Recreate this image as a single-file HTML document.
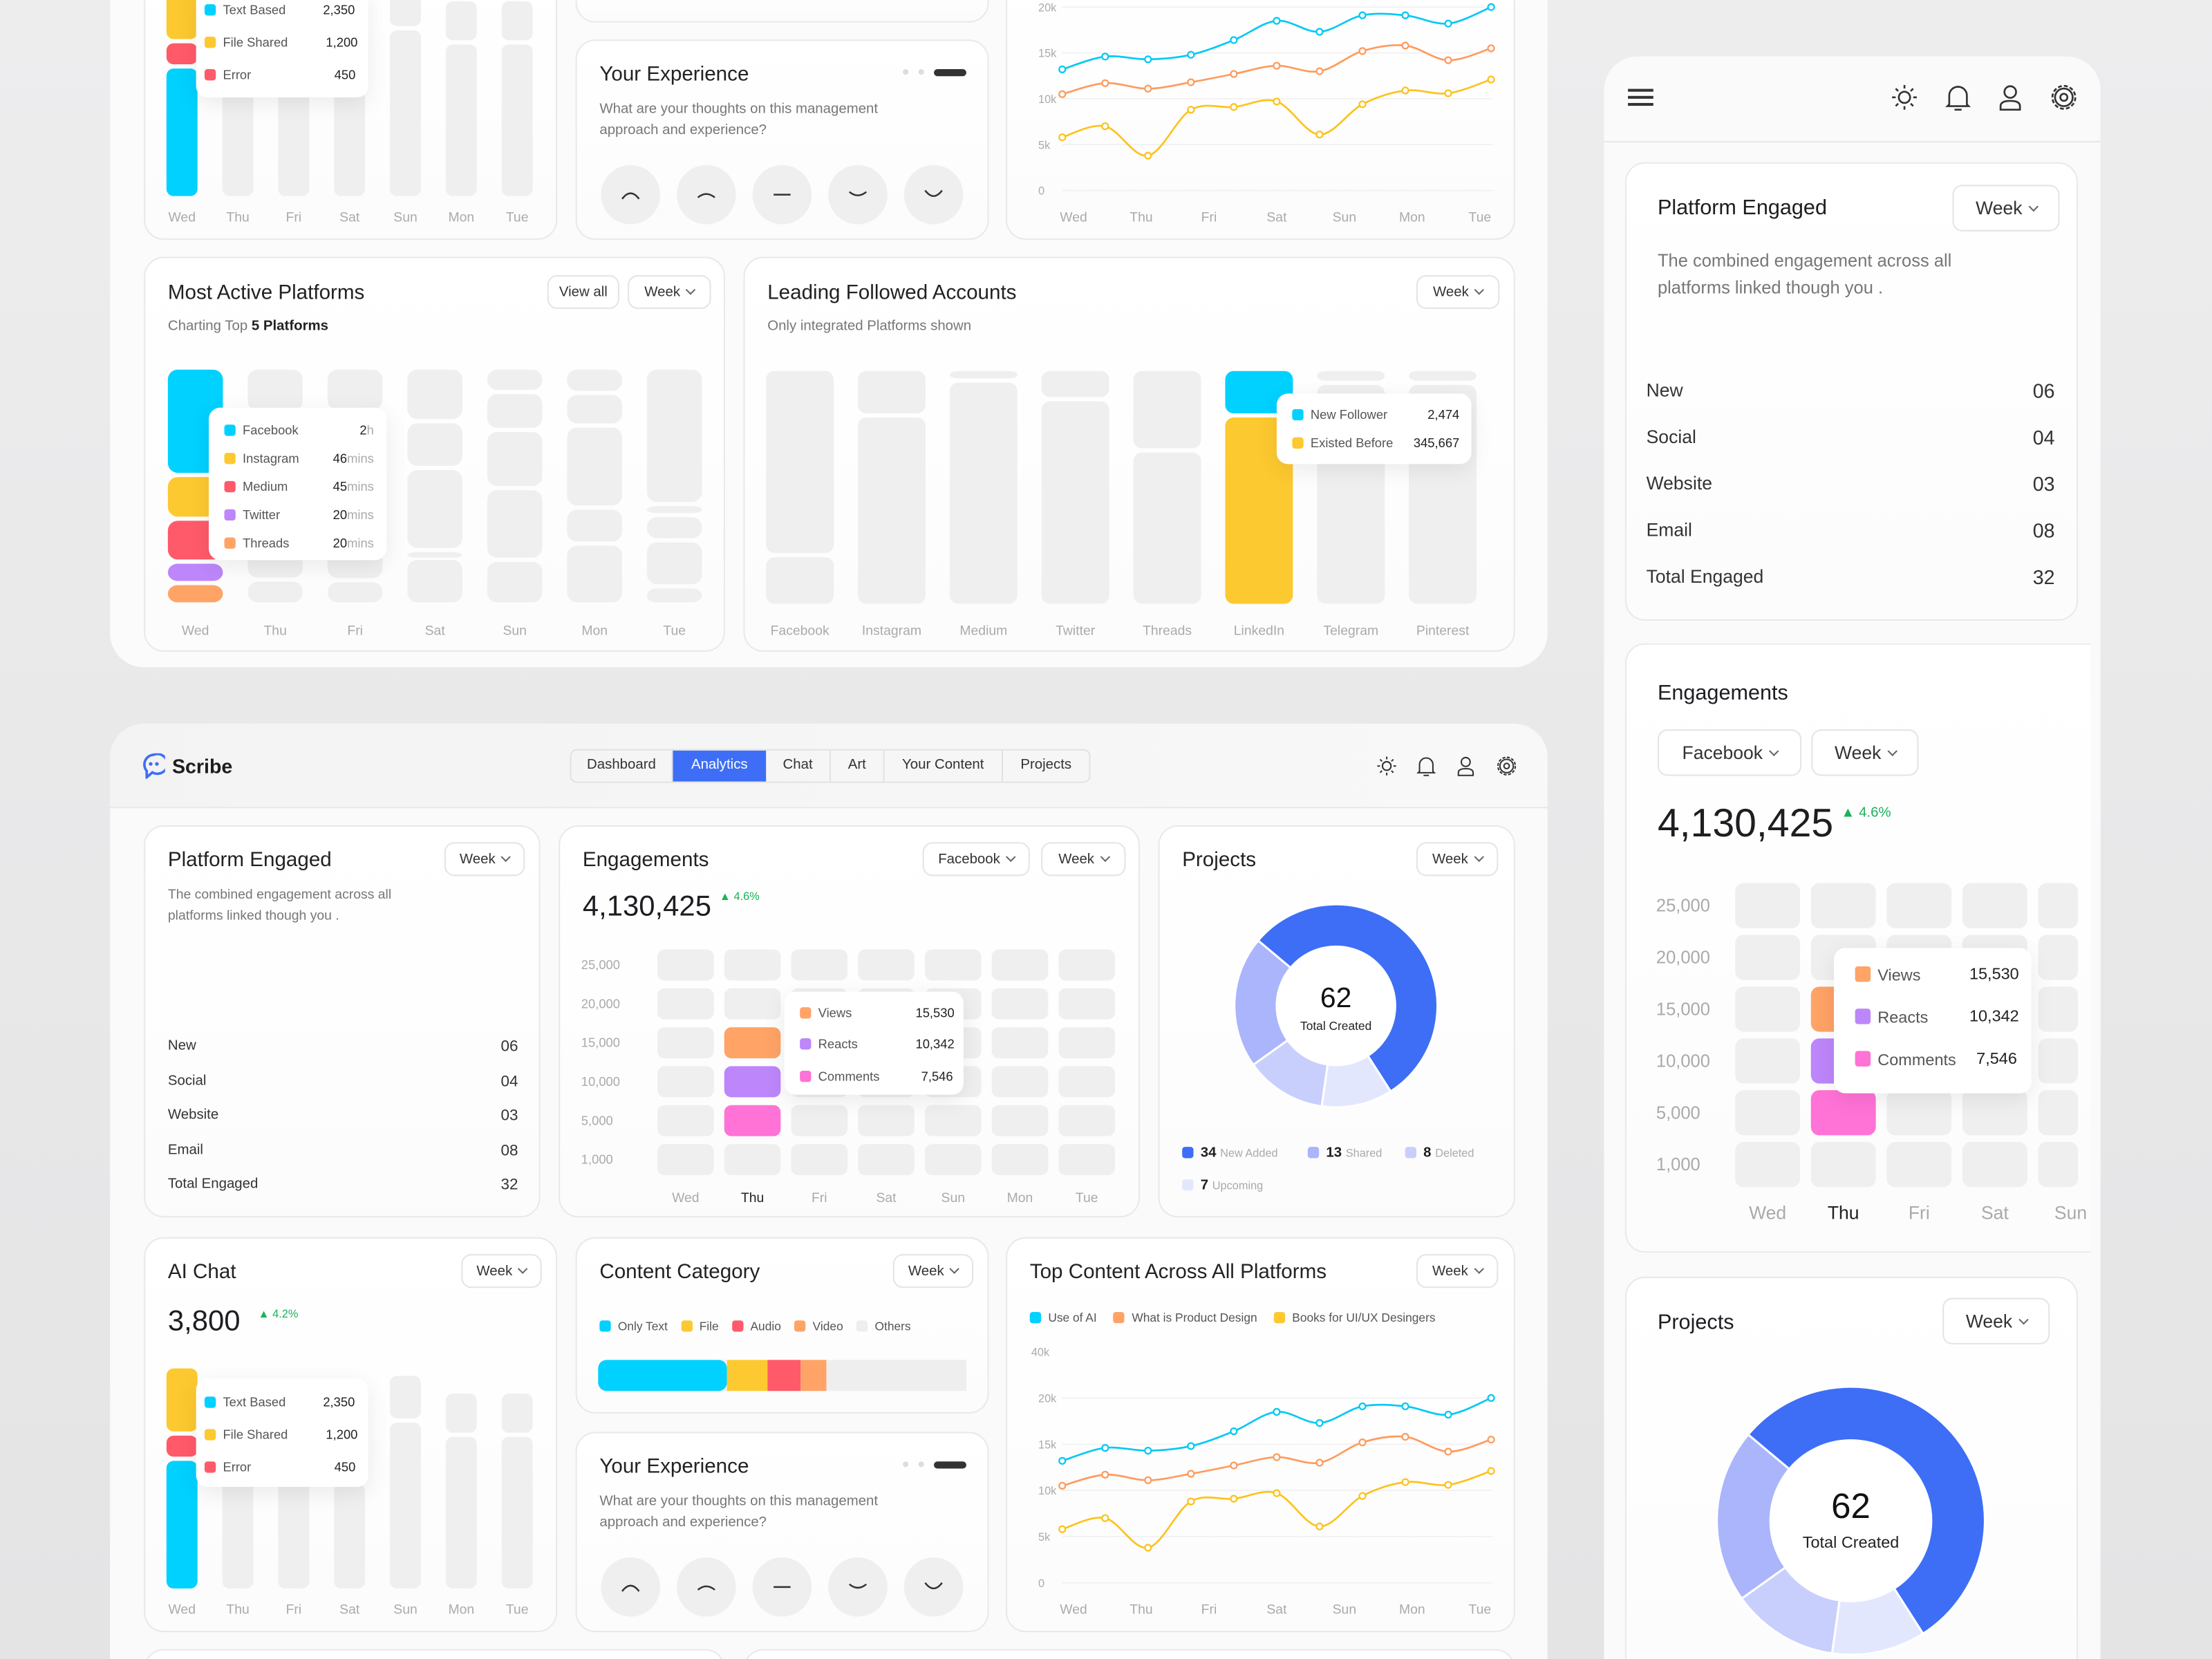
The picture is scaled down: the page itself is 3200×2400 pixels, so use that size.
<!DOCTYPE html>
<html><head><meta charset="utf-8">
<style>
*{box-sizing:border-box;margin:0;padding:0}
html,body{width:3200px;height:2400px;overflow:hidden}
body{background:#e6e6e7;font-family:"Liberation Sans",sans-serif;color:#1d1d22}
#root{position:absolute;left:0;top:0;width:1568px;height:1176px;overflow:hidden;transform:scale(2.0408);transform-origin:0 0;background:linear-gradient(180deg,#ededee,#e4e4e5)}
.panel{position:absolute;background:#fafafa}
.card{position:absolute;background:linear-gradient(180deg,#fff,#fcfcfc);border:1px solid #e9e9ea;border-radius:14px}
.a{position:absolute;white-space:nowrap}
.title{font-size:14.5px;color:#222}
.sub{font-size:10px;color:#777;line-height:14.5px}
.btn{position:absolute;border:1px solid #e4e4e6;border-radius:7px;background:#fff;font-size:10px;color:#333;display:flex;align-items:center;justify-content:center;gap:5px}
.chev{display:inline-block;width:5px;height:5px;border-right:1px solid #666;border-bottom:1px solid #666;transform:rotate(45deg);margin-top:-3px}
.tip{position:absolute;background:#fff;border-radius:8px;box-shadow:0 4px 16px rgba(0,0,0,.08);font-size:9px;color:#555}
.sw{display:inline-block;width:8px;height:8px;border-radius:2px;vertical-align:-1px;margin-right:5px}
.row{position:absolute;font-size:11px;color:#333}
svg{position:absolute;left:0;top:0}
</style></head><body>
<div id="root">

<div class="panel" style="left:78px;top:-30px;width:1019px;height:503px;border-radius:24px;background:#fbfbfb"></div>
<div class="card" style="left:102px;top:-20px;width:293px;height:190px"></div>
<div class="card" style="left:408px;top:-20px;width:293px;height:36px"></div>
<div class="card" style="left:408px;top:28px;width:293px;height:142px">
 <div class="a title" style="left:16px;top:16px">Your Experience</div>
 <div class="a sub" style="left:16px;top:42px;white-space:normal;width:220px">What are your thoughts on this management approach and experience?</div>
</div>
<div class="card" style="left:713px;top:-20px;width:361px;height:190px"></div>
<div class="card" style="left:102px;top:182px;width:412px;height:280px">
 <div class="a title" style="left:16px;top:17px">Most Active Platforms</div>
 <div class="a sub" style="left:16px;top:42px">Charting Top <b style="color:#222">5 Platforms</b></div>
 <div class="btn" style="left:285px;top:12px;width:51px;height:24px">View all</div>
 <div class="btn" style="left:342px;top:12px;width:59px;height:24px">Week <span class="chev"></span></div>
</div>
<div class="card" style="left:527px;top:182px;width:547px;height:280px">
 <div class="a title" style="left:16px;top:17px">Leading Followed Accounts</div>
 <div class="a sub" style="left:16px;top:42px">Only integrated Platforms shown</div>
 <div class="btn" style="left:476px;top:12px;width:59px;height:24px">Week <span class="chev"></span></div>
</div>

<div class="panel" style="left:78px;top:513px;width:1019px;height:700px;border-radius:24px;background:#fafafa"></div>
<div class="a" style="left:78px;top:513px;width:1019px;height:60px;border-radius:24px 24px 0 0;background:linear-gradient(90deg,#f3f3f4,#f8f8f8);border-bottom:1px solid #e7e7e8"></div>
<div class="a" style="left:101px;top:534px;width:16px;height:18px">
 <svg width="16" height="18" viewBox="0 0 16 18"><path d="M8 1a7 7 0 0 0-5 11.5L3 17l4-3.5A7 7 0 1 0 8 1z" fill="none" stroke="#3d6ef5" stroke-width="1.8"/><circle cx="5.8" cy="7.5" r="1.3" fill="#3d6ef5"/><circle cx="10.2" cy="7.5" r="1.3" fill="#3d6ef5"/></svg>
</div>
<div class="a" style="left:122px;top:535px;font-size:14px;font-weight:bold">Scribe</div>
<div class="a" style="left:404px;top:531px;height:24px;display:flex;border:1px solid #e2e2e4;border-radius:5px;font-size:10px;color:#333;overflow:hidden">
 <div style="width:72px;line-height:22px;text-align:center;border-right:1px solid #e2e2e4">Dashboard</div>
 <div style="width:66px;line-height:22px;text-align:center;background:#3d6ef5;color:#fff">Analytics</div>
 <div style="width:46px;line-height:22px;text-align:center;border-right:1px solid #e2e2e4">Chat</div>
 <div style="width:38px;line-height:22px;text-align:center;border-right:1px solid #e2e2e4">Art</div>
 <div style="width:84px;line-height:22px;text-align:center;border-right:1px solid #e2e2e4">Your Content</div>
 <div style="width:61px;line-height:22px;text-align:center">Projects</div>
</div>

<div class="card" style="left:102px;top:585px;width:281px;height:278px">
 <div class="a title" style="left:16px;top:16px">Platform Engaged</div>
 <div class="btn" style="left:212px;top:11px;width:57px;height:24px">Week <span class="chev"></span></div>
 <div class="a sub" style="left:16px;top:42px;white-space:normal;width:190px;font-size:9.5px">The combined engagement across all platforms linked though you .</div>
 <div class="row" style="left:16px;top:150px;font-size:10px">New</div><div class="row" style="left:252px;top:150px">06</div>
 <div class="row" style="left:16px;top:175px;font-size:10px">Social</div><div class="row" style="left:252px;top:175px">04</div>
 <div class="row" style="left:16px;top:199px;font-size:10px">Website</div><div class="row" style="left:252px;top:199px">03</div>
 <div class="row" style="left:16px;top:224px;font-size:10px">Email</div><div class="row" style="left:252px;top:224px">08</div>
 <div class="row" style="left:16px;top:248px;font-size:10px">Total Engaged</div><div class="row" style="left:252px;top:248px">32</div>
</div>
<div class="card" style="left:396px;top:585px;width:412px;height:278px">
 <div class="a title" style="left:16px;top:16px">Engagements</div>
 <div class="btn" style="left:257px;top:11px;width:76px;height:24px">Facebook <span class="chev"></span></div>
 <div class="btn" style="left:341px;top:11px;width:60px;height:24px">Week <span class="chev"></span></div>
 <div class="a" style="left:16px;top:45px;font-size:20.5px">4,130,425</div>
 <div class="a" style="left:113px;top:45px;font-size:8px;color:#19b35a">▲ 4.6%</div>
</div>
<div class="card" style="left:821px;top:585px;width:253px;height:278px">
 <div class="a title" style="left:16px;top:16px">Projects</div>
 <div class="btn" style="left:182px;top:11px;width:58px;height:24px">Week <span class="chev"></span></div>
 <div class="a" style="left:16px;top:226px;font-size:10px"><span class="sw" style="background:#3d6ef5"></span><b>34</b> <span style="color:#aaa;font-size:8px">New Added</span></div>
 <div class="a" style="left:105px;top:226px;font-size:10px"><span class="sw" style="background:#aab5fb"></span><b>13</b> <span style="color:#aaa;font-size:8px">Shared</span></div>
 <div class="a" style="left:174px;top:226px;font-size:10px"><span class="sw" style="background:#c8cffd"></span><b>8</b> <span style="color:#aaa;font-size:8px">Deleted</span></div>
 <div class="a" style="left:16px;top:249px;font-size:10px"><span class="sw" style="background:#e3e7fe"></span><b>7</b> <span style="color:#aaa;font-size:8px">Upcoming</span></div>
</div>
<div class="card" style="left:102px;top:877px;width:293px;height:280px">
 <div class="a title" style="left:16px;top:16px">AI Chat</div>
 <div class="btn" style="left:224px;top:11px;width:57px;height:24px">Week <span class="chev"></span></div>
 <div class="a" style="left:16px;top:47px;font-size:20.5px">3,800</div>
 <div class="a" style="left:80px;top:49px;font-size:8px;color:#19b35a">▲ 4.2%</div>
</div>
<div class="card" style="left:408px;top:877px;width:293px;height:125px">
 <div class="a title" style="left:16px;top:16px">Content Category</div>
 <div class="btn" style="left:224px;top:11px;width:57px;height:24px">Week <span class="chev"></span></div>
 <div class="a" style="left:16px;top:57px;font-size:8.5px;color:#555"><span class="sw" style="background:#00d1ff"></span>Only Text &nbsp;&nbsp; <span class="sw" style="background:#fdc930"></span>File &nbsp;&nbsp; <span class="sw" style="background:#ff5a6a"></span>Audio &nbsp;&nbsp; <span class="sw" style="background:#ffa366"></span>Video &nbsp;&nbsp; <span class="sw" style="background:#eee"></span>Others</div>
</div>
<div class="card" style="left:408px;top:1015px;width:293px;height:142px">
 <div class="a title" style="left:16px;top:16px">Your Experience</div>
 <div class="a sub" style="left:16px;top:42px;white-space:normal;width:220px">What are your thoughts on this management approach and experience?</div>
</div>
<div class="card" style="left:713px;top:877px;width:361px;height:280px">
 <div class="a title" style="left:16px;top:16px">Top Content Across All Platforms</div>
 <div class="btn" style="left:290px;top:11px;width:58px;height:24px">Week <span class="chev"></span></div>
 <div class="a" style="left:16px;top:51px;font-size:8.5px;color:#555"><span class="sw" style="background:#00d1ff"></span>Use of AI &nbsp;&nbsp;&nbsp; <span class="sw" style="background:#ffa366"></span>What is Product Design &nbsp;&nbsp;&nbsp; <span class="sw" style="background:#fdc930"></span>Books for UI/UX Desingers</div>
</div>
<div class="card" style="left:102px;top:1169px;width:412px;height:40px"></div>
<div class="card" style="left:527px;top:1169px;width:547px;height:40px"></div>

<div class="panel" style="left:1137px;top:40px;width:352px;height:1180px;border-radius:24px;background:#fafafa"></div>
<div class="a" style="left:1137px;top:100px;width:352px;height:1px;background:#e7e7e8"></div>
<div class="a" style="left:1154px;top:63px;width:18px;height:12px;border-top:2px solid #333;border-bottom:2px solid #333"><div style="margin-top:3px;height:2px;background:#333"></div></div>
<div class="card" style="left:1152px;top:115px;width:321px;height:325px">
 <div class="a" style="left:22px;top:23px;font-size:15px">Platform Engaged</div>
 <div class="btn" style="left:231px;top:15px;width:76px;height:33px;font-size:13px">Week <span class="chev"></span></div>
 <div class="a sub" style="left:22px;top:60px;white-space:normal;width:240px;font-size:12.5px;line-height:19px">The combined engagement across all platforms linked though you .</div>
 <div class="row" style="left:14px;top:153px;font-size:13px">New</div><div class="row" style="left:288px;top:153px;font-size:14px">06</div>
 <div class="row" style="left:14px;top:186px;font-size:13px">Social</div><div class="row" style="left:288px;top:186px;font-size:14px">04</div>
 <div class="row" style="left:14px;top:219px;font-size:13px">Website</div><div class="row" style="left:288px;top:219px;font-size:14px">03</div>
 <div class="row" style="left:14px;top:252px;font-size:13px">Email</div><div class="row" style="left:288px;top:252px;font-size:14px">08</div>
 <div class="row" style="left:14px;top:285px;font-size:13px">Total Engaged</div><div class="row" style="left:288px;top:285px;font-size:14px">32</div>
</div>
<div class="card" style="left:1152px;top:456px;width:330px;height:432px;border-right:none;border-radius:14px 0 0 14px">
 <div class="a" style="left:22px;top:26px;font-size:15px">Engagements</div>
 <div class="btn" style="left:22px;top:60px;width:102px;height:33px;font-size:13px">Facebook <span class="chev"></span></div>
 <div class="btn" style="left:131px;top:60px;width:76px;height:33px;font-size:13px">Week <span class="chev"></span></div>
 <div class="a" style="left:22px;top:111px;font-size:28px">4,130,425</div>
 <div class="a" style="left:152px;top:114px;font-size:10px;color:#19b35a">▲ 4.6%</div>
</div>
<div class="card" style="left:1152px;top:905px;width:321px;height:300px">
 <div class="a" style="left:22px;top:23px;font-size:15px">Projects</div>
 <div class="btn" style="left:224px;top:14px;width:76px;height:33px;font-size:13px">Week <span class="chev"></span></div>
</div>

<svg id="marks" width="1568" height="1176"></svg>

<div class="tip" style="left:139px;top:-10px;width:122px;height:79px">
 <div class="a" style="left:6px;top:12px"><span class="sw" style="background:#00d1ff"></span>Text Based</div><div class="a" style="left:90px;top:12px;color:#222">2,350</div>
 <div class="a" style="left:6px;top:35px"><span class="sw" style="background:#fdc930"></span>File Shared</div><div class="a" style="left:92px;top:35px;color:#222">1,200</div>
 <div class="a" style="left:6px;top:58px"><span class="sw" style="background:#ff5a6a"></span>Error</div><div class="a" style="left:98px;top:58px;color:#222">450</div>
</div>
<div class="tip" style="left:148px;top:289px;width:126px;height:108px">
 <div class="a" style="left:11px;top:11px"><span class="sw" style="background:#00d1ff"></span>Facebook</div><div class="a" style="left:107px;top:11px;color:#222">2<span style="color:#aaa">h</span></div>
 <div class="a" style="left:11px;top:31px"><span class="sw" style="background:#fdc930"></span>Instagram</div><div class="a" style="left:88px;top:31px;color:#222">46<span style="color:#aaa">mins</span></div>
 <div class="a" style="left:11px;top:51px"><span class="sw" style="background:#ff5a6a"></span>Medium</div><div class="a" style="left:88px;top:51px;color:#222">45<span style="color:#aaa">mins</span></div>
 <div class="a" style="left:11px;top:71px"><span class="sw" style="background:#bd86fb"></span>Twitter</div><div class="a" style="left:88px;top:71px;color:#222">20<span style="color:#aaa">mins</span></div>
 <div class="a" style="left:11px;top:91px"><span class="sw" style="background:#ffa366"></span>Threads</div><div class="a" style="left:88px;top:91px;color:#222">20<span style="color:#aaa">mins</span></div>
</div>
<div class="tip" style="left:905px;top:279px;width:138px;height:50px">
 <div class="a" style="left:11px;top:10px"><span class="sw" style="background:#00d1ff"></span>New Follower</div><div class="a" style="left:107px;top:10px;color:#222">2,474</div>
 <div class="a" style="left:11px;top:30px"><span class="sw" style="background:#fdc930"></span>Existed Before</div><div class="a" style="left:97px;top:30px;color:#222">345,667</div>
</div>
<div class="tip" style="left:556px;top:703px;width:127px;height:73px">
 <div class="a" style="left:11px;top:10px"><span class="sw" style="background:#ffa366"></span>Views</div><div class="a" style="left:93px;top:10px;color:#222">15,530</div>
 <div class="a" style="left:11px;top:32px"><span class="sw" style="background:#bd86fb"></span>Reacts</div><div class="a" style="left:93px;top:32px;color:#222">10,342</div>
 <div class="a" style="left:11px;top:55px"><span class="sw" style="background:#ff72d6"></span>Comments</div><div class="a" style="left:97px;top:55px;color:#222">7,546</div>
</div>
<div class="tip" style="left:139px;top:977px;width:122px;height:77px">
 <div class="a" style="left:6px;top:12px"><span class="sw" style="background:#00d1ff"></span>Text Based</div><div class="a" style="left:90px;top:12px;color:#222">2,350</div>
 <div class="a" style="left:6px;top:35px"><span class="sw" style="background:#fdc930"></span>File Shared</div><div class="a" style="left:92px;top:35px;color:#222">1,200</div>
 <div class="a" style="left:6px;top:58px"><span class="sw" style="background:#ff5a6a"></span>Error</div><div class="a" style="left:98px;top:58px;color:#222">450</div>
</div>
<div class="tip" style="left:1300px;top:672px;width:140px;height:103px;font-size:11.5px">
 <div class="a" style="left:15px;top:13px"><span class="sw" style="background:#ffa366;width:11px;height:11px"></span>Views</div><div class="a" style="left:96px;top:13px;color:#222">15,530</div>
 <div class="a" style="left:15px;top:43px"><span class="sw" style="background:#bd86fb;width:11px;height:11px"></span>Reacts</div><div class="a" style="left:96px;top:43px;color:#222">10,342</div>
 <div class="a" style="left:15px;top:73px"><span class="sw" style="background:#ff72d6;width:11px;height:11px"></span>Comments</div><div class="a" style="left:101px;top:73px;color:#222">7,546</div>
</div>
<div class="a" style="left:1142px;top:1054px;width:340px;text-align:center;font-size:25px;color:#111">62</div>
<div class="a" style="left:1142px;top:1088px;width:340px;text-align:center;font-size:11.5px;color:#222">Total Created</div>
<div class="a" style="left:877px;top:697px;width:140px;text-align:center;font-size:20px;color:#111">62</div>
<div class="a" style="left:877px;top:722px;width:140px;text-align:center;font-size:8.5px;color:#222">Total Created</div>
</div>

<script>
const NS='http://www.w3.org/2000/svg';
const svg=document.getElementById('marks');
function el(tag,attrs,parent){const e=document.createElementNS(NS,tag);for(const k in attrs)e.setAttribute(k,attrs[k]);(parent||svg).appendChild(e);return e;}
function txt(x,y,s,size,fill,anchor,weight){const e=el('text',{x:x,y:y,'font-size':size,fill:fill,'text-anchor':anchor||'middle','font-family':'Liberation Sans, sans-serif','font-weight':weight||'normal'});e.textContent=s;return e;}

const days=['Wed','Thu','Fri','Sat','Sun','Mon','Tue'];
const aiTotals=[3800,3100,3000,2300,3600,3300,3300];
const aiWedParts=[2350,450,1200];
const aiPartColors=['#00d1ff','#ff5a6a','#fdc930'];
const platformMins=[120,46,45,20,20];
const platformColors=['#00d1ff','#fdc930','#ff5a6a','#bd86fb','#ffa366'];
const otherDaySegments=[[40,60,50,40,20],[40,45,60,50,20],[70,60,110,5,60],[30,50,80,100,60],[30,40,110,45,80],[190,10,30,60,20]];
const platforms=['Facebook','Instagram','Medium','Twitter','Threads','LinkedIn','Telegram','Pinterest'];
const newFollowers=[0,0,0,0,0,2474,0,0];
const existedBefore=[0,0,0,0,0,9900,0,0];
const followerGaps=[0.8,0.2,0.05,0.13,0.35,0,0.06,0.06];
const heatRows=['25,000','20,000','15,000','10,000','5,000','1,000'];
const heatRowMin=[25000,20000,15000,10000,5000,1000];
const thuViews=15530, thuReacts=10342, thuComments=7546;
const donutValues=[34,7,8,13];
const donutColors=['#3d6ef5','#e3e7fe','#c8cffd','#aab5fb'];
const lineTicks=['0','5k','10k','15k','20k'];
const lineTickVals=[0,5,10,15,20];
const seriesAI=[13.2,14.6,14.3,14.8,16.4,18.5,17.3,19.1,19.1,18.2,20.0];
const seriesPD=[10.5,11.7,11.1,11.8,12.7,13.6,13.0,15.2,15.8,14.2,15.5];
const seriesBooks=[5.8,7.0,3.8,8.8,9.1,9.7,6.1,9.4,10.9,10.6,12.1];
const categoryShares=[35,11,9,7,38];
const categoryColors=['#00d1ff','#fdc930','#ff5a6a','#ffa366','#eeeeee'];

function aiChart(bottom,labelY){
  const x0=118,step=39.6,w=22,k=159/3800;
  days.forEach((d,i)=>{
    const x=x0+i*step, h=aiTotals[i]*k;
    if(i===0){
      let y=bottom;const tot=aiWedParts.reduce((a,b)=>a+b,0);
      aiWedParts.forEach((v,j)=>{const hh=v/tot*h-3;const r=el('rect',{x:x,y:y-hh,width:w,height:hh,rx:5,fill:aiPartColors[j]});
        
        
        y-=hh+3;});
    }else{
      const top=bottom-h, h1=h*0.2;
      const r1=el('rect',{x:x,y:top,width:w,height:h1,rx:5,fill:'#efefef'});
      
      
      const r2=el('rect',{x:x,y:top+h1+3,width:w,height:h-h1-3,rx:5,fill:'#efefef'});
      
      
    }
    const t=txt(x+w/2,labelY,d,9.5,'#aaa');
    
    
  });
}
aiChart(139,157);
aiChart(1126,1144);

(function(){
  const x0=119,step=56.6,w=39,bottom=427,H=165,gap=3;
  days.forEach((d,i)=>{
    const x=x0+i*step;
    const vals=i===0?platformMins:otherDaySegments[i-1];
    const tot=vals.reduce((a,b)=>a+b,0);
    const avail=H-gap*(vals.length-1);
    let y=bottom-H;
    vals.forEach((v,j)=>{const hh=v/tot*avail;
      const r=el('rect',{x:x,y:y,width:w,height:Math.max(hh,4),rx:7,fill:i===0?platformColors[j]:'#efefef'});
      
      
      y+=hh+gap;});
    const t=txt(x+w/2,450,d,9.5,'#aaa');
    
    
  });
})();

(function(){
  const x0=543,step=65.1,w=48,bottom=428,H=165;
  platforms.forEach((p,i)=>{
    const x=x0+i*step;
    if(newFollowers[i]>0){
      const tot=newFollowers[i]+existedBefore[i];
      const h1=newFollowers[i]/tot*H;
      const r1=el('rect',{x:x,y:bottom-H,width:w,height:h1-3,rx:6,fill:'#00d1ff'});
      
      
      const r2=el('rect',{x:x,y:bottom-H+h1,width:w,height:H-h1,rx:6,fill:'#fdc930'});
      
      
    }else{
      const g=followerGaps[i]*H;
      if(g>0){const r=el('rect',{x:x,y:bottom-H,width:w,height:Math.max(g-3,4),rx:6,fill:'#efefef'});
        
        }
      const r2=el('rect',{x:x,y:bottom-H+g,width:w,height:H-g,rx:6,fill:'#efefef'});
      
      
    }
    const t=txt(x+w/2,450,p,9.5,'#aaa');
    
    
  });
})();

function rowFor(v){for(let r=0;r<heatRowMin.length;r++){if(v>=heatRowMin[r])return r;}return heatRowMin.length-1;}
function heatmap(x0,y0,cw,ch,sx,sy,labX,fs,labelY,maxX,rr){
  const hi={};hi[rowFor(thuViews)]='#ffa366';hi[rowFor(thuReacts)]='#bd86fb';hi[rowFor(thuComments)]='#ff72d6';
  heatRows.forEach((lab,r)=>{
    const t=txt(labX,y0+r*sy+ch/2+fs/3,lab,fs,'#aaa','start');
    
    
    days.forEach((d,c)=>{
      const x=x0+c*sx; if(x>maxX)return;
      const w=Math.min(cw,maxX-x);
      const cell=el('rect',{x:x,y:y0+r*sy,width:w,height:ch,rx:rr,fill:(c===1&&hi[r])?hi[r]:'#efefef'});
      
      
    });
  });
  days.forEach((d,c)=>{const x=x0+c*sx;if(x>maxX)return;
    const t=txt(x+cw/2,labelY,d,fs+0.5,c===1?'#222':'#aaa');
    
    });
}
heatmap(466,673,40,22,47.4,27.6,412,9,852,800,5);
heatmap(1230,626,46,32,53.7,36.7,1174,12.5,864,1473,6);

function donut(cx,cy,R,r,name){
  const tot=donutValues.reduce((a,b)=>a+b,0);
  let a=-50*Math.PI/180;
  donutValues.forEach((v,i)=>{
    const b=a+v/tot*2*Math.PI;
    const p=(ang,rad)=>[cx+rad*Math.sin(ang),cy-rad*Math.cos(ang)];
    const [x1,y1]=p(a,R),[x2,y2]=p(b,R),[x3,y3]=p(b,r),[x4,y4]=p(a,r);
    const lg=(b-a)>Math.PI?1:0;
    const path=el('path',{d:`M${x1},${y1}A${R},${R} 0 ${lg} 1 ${x2},${y2}L${x3},${y3}A${r},${r} 0 ${lg} 0 ${x4},${y4}Z`,fill:donutColors[i],stroke:'#fff','stroke-width':1.5});
    
    
    a=b;
  });
  const c=el('circle',{cx:cx,cy:cy,r:r,fill:'#fff'});
  
  
}
donut(947,713,72,42,'projects-donut');
donut(1312,1078,95,57,'mobile-projects-donut');

function smooth(pts){let d=`M${pts[0][0]},${pts[0][1]}`;
  for(let i=0;i<pts.length-1;i++){const p0=pts[i-1]||pts[i],p1=pts[i],p2=pts[i+1],p3=pts[i+2]||p2;
    d+=`C${p1[0]+(p2[0]-p0[0])/6},${p1[1]+(p2[1]-p0[1])/6} ${p2[0]-(p3[0]-p1[0])/6},${p2[1]-(p3[1]-p1[1])/6} ${p2[0]},${p2[1]}`;}
  return d;}
function lineChart(zeroY,kpx,labelY,extraTop){
  const X=i=>753+i*(1057-753)/(seriesAI.length-1), Y=v=>zeroY-v*kpx;
  lineTicks.forEach((t,i)=>{const y=Y(lineTickVals[i]);
    const g=el('line',{x1:753,x2:1058,y1:y,y2:y,stroke:'#f0f0f0','stroke-width':0.8});
    
    
    const tt=txt(736,y+3,t,8,'#aaa','start');
    
    });
  if(extraTop){const tt=txt(731,Y(25)+3,extraTop,8,'#aaa','start');
    
    }
  [[seriesAI,'#00c8f5','use-of-ai-line'],[seriesPD,'#ff9a5c','product-design-line'],[seriesBooks,'#fdc21a','books-line']].forEach(([s,c,n])=>{
    const pts=s.map((v,i)=>[X(i),Y(v)]);
    const p=el('path',{d:smooth(pts),fill:'none',stroke:c,'stroke-width':1.3});
    
    
    pts.forEach(q=>{const dot=el('circle',{cx:q[0],cy:q[1],r:2.2,fill:'#fff',stroke:c,'stroke-width':1.1});
      
      });
  });
  days.forEach((d,i)=>{const t=txt(761+i*(1049-761)/6,labelY,d,9.5,'#aaa');
    
    });
}
lineChart(135,6.5,157,null);
lineChart(1122,6.55,1144,'40k');

(function(){
  const x0=424,W=261,tot=categoryShares.reduce((a,b)=>a+b,0);
  const bg=el('rect',{x:x0,y:964,width:W,height:22,rx:6,fill:'#eeeeee'});
  
  
  let x=x0;
  categoryShares.forEach((v,i)=>{const w=v/tot*W;
    const r=el('rect',{x:x,y:964,width:w,height:22,rx:i===0?6:0,fill:categoryColors[i]});
    
    
    x+=w;});
})();

[138,1125].forEach(cy=>{
  const paths=['M-6,3 Q0,-5 6,3','M-6,2 Q0,-3 6,2','M-6,0 L6,0','M-6,-2 Q0,3 6,-2','M-6,-3 Q0,5 6,-3'];
  paths.forEach((p,i)=>{const cx=447+i*53.7;
    const c=el('circle',{cx:cx,cy:cy,r:21,fill:'#efefef'});
    
    
    el('path',{d:p,transform:`translate(${cx},${cy})`,fill:'none',stroke:'#333','stroke-width':1.2});
  });
  const d1=el('circle',{cx:642,cy:cy-87,r:2,fill:'#ddd'});
  
  
  el('circle',{cx:653,cy:cy-87,r:2,fill:'#ddd'});
  const pill=el('rect',{x:662,y:cy-89,width:23,height:5,rx:2.5,fill:'#333'});
  
  
});

function icons(xs,cy,s,sw){
  el('circle',{cx:xs[0],cy:cy,r:3.2*s,fill:'none',stroke:'#333','stroke-width':sw});
  for(let k=0;k<8;k++){const a=k*Math.PI/4;el('line',{x1:xs[0]+5*s*Math.cos(a),y1:cy+5*s*Math.sin(a),x2:xs[0]+7*s*Math.cos(a),y2:cy+7*s*Math.sin(a),stroke:'#333','stroke-width':sw});}
  el('path',{d:`M${xs[1]-5*s},${cy+4*s} L${xs[1]-5*s},${cy-1*s} A${5*s},${5*s} 0 0 1 ${xs[1]+5*s},${cy-1*s} L${xs[1]+5*s},${cy+4*s} L${xs[1]+6*s},${cy+5*s} L${xs[1]-6*s},${cy+5*s}Z M${xs[1]-2*s},${cy+7*s} L${xs[1]+2*s},${cy+7*s}`,fill:'none',stroke:'#333','stroke-width':sw});
  el('circle',{cx:xs[2],cy:cy-3*s,r:3.3*s,fill:'none',stroke:'#333','stroke-width':sw});
  el('path',{d:`M${xs[2]-5.5*s},${cy+7*s} L${xs[2]-5.5*s},${cy+5*s} Q${xs[2]-5.5*s},${cy+2*s} ${xs[2]},${cy+2*s} Q${xs[2]+5.5*s},${cy+2*s} ${xs[2]+5.5*s},${cy+5*s} L${xs[2]+5.5*s},${cy+7*s}Z`,fill:'none',stroke:'#333','stroke-width':sw});
  el('circle',{cx:xs[3],cy:cy,r:6.5*s,fill:'none',stroke:'#333','stroke-width':sw,'stroke-dasharray':`${2.2*s} ${1.2*s}`});
  el('circle',{cx:xs[3],cy:cy,r:5*s,fill:'none',stroke:'#333','stroke-width':sw});
  el('circle',{cx:xs[3],cy:cy,r:2*s,fill:'none',stroke:'#333','stroke-width':sw});
}
icons([983,1011,1039,1068],543,0.95,1);
icons([1350,1388,1425,1463],69,1.25,1.3);
</script>
</body></html>
